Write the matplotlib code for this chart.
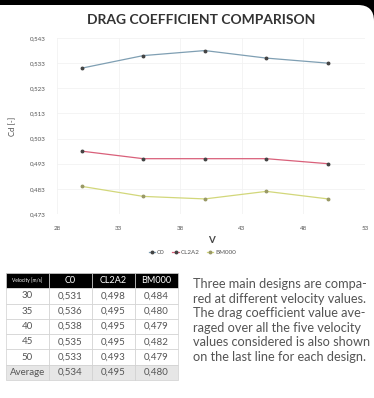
import numpy as np
import matplotlib.pyplot as plt
from matplotlib.patches import FancyBboxPatch

velocity = [30, 35, 40, 45, 50]
cd_c0 = [0.531, 0.536, 0.538, 0.535, 0.533]
cd_cl2a2 = [0.498, 0.495, 0.495, 0.495, 0.493]
cd_bm000 = [0.484, 0.480, 0.479, 0.482, 0.479]
avg_row = ["Average", "0,534", "0,495", "0,480"]
col_labels = ["Velocity [m/s]", "C0", "CL2A2", "BM000"]
y_ticks = [0.473, 0.483, 0.493, 0.503, 0.513, 0.523, 0.533, 0.543]
x_ticks = [28, 33, 38, 43, 48, 53]

W, H = 374, 398
fig = plt.figure(figsize=(W / 100, H / 100), dpi=100, facecolor="black")

# white card with rounded top-right corner over black background
card = FancyBboxPatch((-30, -30), W + 30, H + 30 - 5,
                      boxstyle="round,pad=0,rounding_size=16",
                      transform=None, facecolor="white", edgecolor="none", zorder=-5)
fig.patches.append(card)

font = "Lato"
grey = "#555555"

fig.text(201 / W, 1 - 20 / H, "DRAG COEFFICIENT COMPARISON", ha="center", va="center",
         fontsize=10.0, fontweight="bold", color="#333333", family=font)

ax = fig.add_axes([57 / W, 184 / H, 308 / W, 176 / H])
ax.set_facecolor("none")
ax.plot(velocity, cd_c0, color="#7f9fb3", lw=0.9, marker="o", ms=1.8,
        mfc="#444444", mec="#444444", label="C0")
ax.plot(velocity, cd_cl2a2, color="#d9607a", lw=0.9, marker="o", ms=1.8,
        mfc="#444444", mec="#444444", label="CL2A2")
ax.plot(velocity, cd_bm000, color="#d2d77a", lw=0.9, marker="o", ms=1.8,
        mfc="#999966", mec="#999966", label="BM000")
ax.set_xlim(28, 53)
ax.set_ylim(0.473, 0.543)
ax.set_xticks(x_ticks)
ax.set_yticks(y_ticks)
ax.set_xticklabels([str(v) for v in x_ticks], fontsize=4.5, color=grey, family=font)
ax.set_yticklabels([f"{v:.3f}".replace(".", ",") for v in y_ticks], fontsize=4.5,
                   color=grey, family=font)
ax.tick_params(length=0, pad=9)
ax.tick_params(axis="y", pad=8)
for s in ax.spines.values():
    s.set_visible(False)
ax.grid(True, color="#f2f2f2", lw=0.6)
ax.set_xlabel("V", fontsize=7, color="#444444", family=font, fontweight="bold", labelpad=3)
ax.set_ylabel("Cd [-]", fontsize=5.5, color="#444444", family=font, labelpad=10)
ax.legend(loc="upper center", bbox_to_anchor=(0.44, -0.17), ncol=3, frameon=False,
          handlelength=1.0, handletextpad=0.3, columnspacing=1.2,
          prop={"family": font, "size": 4.5}, labelcolor=grey)

# table
tax = fig.add_axes([6 / W, (H - 380) / H, 172 / W, 107 / H])
tax.axis("off")
rows = [[str(v)] + [f"{a:.3f}".replace(".", ","), f"{b:.3f}".replace(".", ","),
        f"{c:.3f}".replace(".", ",")] for v, a, b, c in zip(velocity, cd_c0, cd_cl2a2, cd_bm000)]
rows.append(avg_row)
tbl = tax.table(cellText=rows, colLabels=col_labels, bbox=[0, 0, 1, 1], cellLoc="center")
tbl.auto_set_font_size(False)
for (r, c), cell in tbl.get_celld().items():
    cell.set_edgecolor("#d0d0d0")
    cell.set_linewidth(0.5)
    cell.get_text().set_family(font)
    if r == 0:
        cell.set_facecolor("black")
        cell.get_text().set_color("white")
        cell.get_text().set_fontsize(3.5 if c == 0 else 6.5)
    else:
        cell.set_facecolor("#e6e6e6" if r == len(rows) else "white")
        cell.get_text().set_color(grey)
        cell.get_text().set_fontsize(7)

para = ["Three main designs are compa-",
        "red at different velocity values.",
        "The drag coefficient value ave-",
        "raged over all the five velocity",
        "values considered is also shown",
        "on the last line for each design."]
for i, line in enumerate(para):
    fig.text(193 / W, 1 - (284 + i * 14.6) / H, line, ha="left", va="center",
             fontsize=9.2, color="#555555", family=font)

fig.savefig("out.png", dpi=100, facecolor="black")
